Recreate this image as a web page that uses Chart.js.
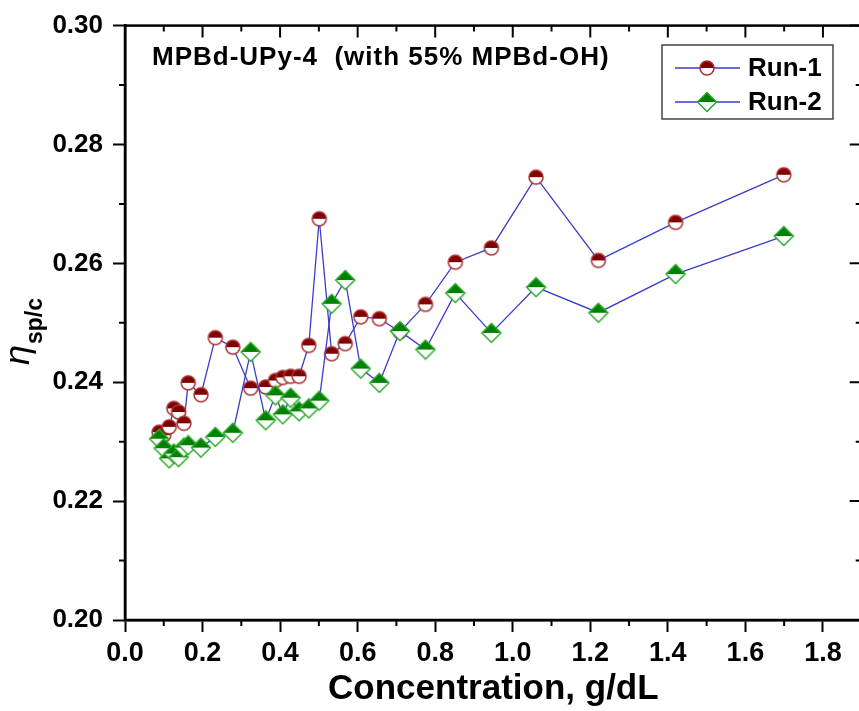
<!DOCTYPE html>
<html>
<head>
<meta charset="utf-8">
<script src="https://cdn.jsdelivr.net/npm/chart.js@4.4.1/dist/chart.umd.min.js"></script>
<style>
    html, body { margin: 0; padding: 0; background: #fff; overflow: hidden; }
    #wrap { width: 859px; height: 711px; overflow: hidden; }
</style>
</head>
<body>
<div id="wrap"><canvas id="viscChart" width="872" height="711"></canvas></div>
<script>
// concentration, g/dL
const concentration = [0.088, 0.100, 0.114, 0.126, 0.138, 0.152, 0.163, 0.196, 0.233, 0.278,
    0.324, 0.363, 0.388, 0.407, 0.427, 0.449, 0.474, 0.501, 0.533, 0.568,
    0.608, 0.656, 0.709, 0.775, 0.852, 0.945, 1.060, 1.221, 1.420, 1.699];
// eta sp/c
const run1 = [0.2316, 0.2311, 0.2325, 0.2356, 0.2350, 0.2331, 0.2399, 0.2379, 0.2475, 0.2459,
    0.2390, 0.2392, 0.2403, 0.2408, 0.2410, 0.2410, 0.2462, 0.2675, 0.2448, 0.2465,
    0.2510, 0.2507, 0.2485, 0.2531, 0.2602, 0.2626, 0.2745, 0.2605, 0.2669, 0.2749];
const run2 = [0.2305, 0.2289, 0.2272, 0.2280, 0.2274, 0.2290, 0.2294, 0.2290, 0.2308, 0.2315,
    0.2451, 0.2336, 0.2378, 0.2346, 0.2374, 0.2351, 0.2356, 0.2369, 0.2532, 0.2572,
    0.2423, 0.2399, 0.2486, 0.2455, 0.2550, 0.2483, 0.2560, 0.2517, 0.2582, 0.2646];
const seriesNames = ['Run-1', 'Run-2'];
const xRange = [0, 1.9];
const yRange = [0.20, 0.30];
const noteText = 'MPBd-UPy-4  (with 55% MPBd-OH)';

const FONT = '"Liberation Sans", Arial, sans-serif';
const LINE_BLUE = '#3b3bcc';

function makeCircle(fill, border) {
    const c = document.createElement('canvas');
    c.width = 18; c.height = 18;
    const g = c.getContext('2d');
    g.fillStyle = '#fff';
    g.beginPath(); g.arc(9, 9, 7, 0, Math.PI * 2); g.fill();
    g.fillStyle = fill;
    g.beginPath(); g.arc(9, 9, 7, Math.PI, Math.PI * 2); g.closePath(); g.fill();
    g.strokeStyle = border; g.lineWidth = 1.5;
    g.beginPath(); g.arc(9, 9, 7, 0, Math.PI * 2); g.stroke();
    return c;
}

function makeDiamond(fill, border) {
    const c = document.createElement('canvas');
    c.width = 22; c.height = 22;
    const g = c.getContext('2d');
    const r = 9.5;
    g.fillStyle = '#fff';
    g.beginPath();
    g.moveTo(11 - r, 11); g.lineTo(11, 11 - r); g.lineTo(11 + r, 11); g.lineTo(11, 11 + r);
    g.closePath(); g.fill();
    g.fillStyle = fill;
    g.beginPath();
    g.moveTo(11 - r, 11); g.lineTo(11, 11 - r); g.lineTo(11 + r, 11);
    g.closePath(); g.fill();
    g.strokeStyle = border; g.lineWidth = 1.5;
    g.beginPath();
    g.moveTo(11 - r, 11); g.lineTo(11, 11 - r); g.lineTo(11 + r, 11); g.lineTo(11, 11 + r);
    g.closePath(); g.stroke();
    return c;
}

const circleMark = makeCircle('#7f0000', '#a83232');
const diamondMark = makeDiamond('#008000', '#2aa82a');

// frame, minor ticks, legend box, note and y title
const decorations = {
    id: 'decorations',
    afterDraw(chart) {
        const ctx = chart.ctx;
        const {left, right, top, bottom} = chart.chartArea;
        const xs = chart.scales.x, ys = chart.scales.y;
        ctx.save();
        ctx.strokeStyle = '#000';
        ctx.lineWidth = 2.5;
        ctx.strokeRect(left, top, right - left, bottom - top);

        ctx.lineWidth = 2;
        ctx.beginPath();
        xs.ticks.forEach(t => {
            const px = xs.getPixelForValue(t.value);
            ctx.moveTo(px, top); ctx.lineTo(px, top + 12);
            const mx = xs.getPixelForValue(t.value + 0.1);
            if (t.value + 0.1 < xRange[1]) {
                ctx.moveTo(mx, bottom); ctx.lineTo(mx, bottom + 6);
                ctx.moveTo(mx, top); ctx.lineTo(mx, top + 6);
            }
        });
        ys.ticks.forEach(t => {
            const py = ys.getPixelForValue(t.value);
            ctx.moveTo(right, py); ctx.lineTo(right - 12, py);
            if (t.value + 0.01 < yRange[1]) {
                const my = ys.getPixelForValue(t.value + 0.01);
                ctx.moveTo(left, my); ctx.lineTo(left - 6, my);
                ctx.moveTo(right, my); ctx.lineTo(right - 6, my);
            }
        });
        ctx.stroke();

        // note
        ctx.fillStyle = '#000';
        ctx.font = 'bold 26px ' + FONT;
        ctx.textBaseline = 'middle';
        ctx.textAlign = 'left';
        ctx.letterSpacing = '1px';
        ctx.fillText(noteText, 152, 58);
        ctx.letterSpacing = '0px';

        // legend
        ctx.lineWidth = 1.5;
        ctx.strokeStyle = '#444';
        ctx.strokeRect(662, 45, 171, 74);
        const marks = [circleMark, diamondMark];
        chart.data.datasets.forEach((ds, i) => {
            const y = 68 + i * 34;
            ctx.strokeStyle = LINE_BLUE;
            ctx.lineWidth = 1.3;
            ctx.beginPath(); ctx.moveTo(675, y); ctx.lineTo(740, y); ctx.stroke();
            const m = marks[i];
            ctx.drawImage(m, 707 - m.width / 2, y - m.height / 2);
            ctx.fillStyle = '#000';
            ctx.font = 'bold 26px ' + FONT;
            ctx.fillText(ds.label, 748, y + 1);
        });

        // y title: eta sp/c
        ctx.translate(29, 365);
        ctx.rotate(-Math.PI / 2);
        ctx.textAlign = 'left';
        ctx.textBaseline = 'alphabetic';
        ctx.font = 'italic 36px ' + FONT;
        ctx.fillText('η', 0, 0);
        const w = ctx.measureText('η').width;
        ctx.font = 'bold 23px ' + FONT;
        ctx.fillText('sp/c', w + 1, 13);
        ctx.restore();
    }
};

new Chart(document.getElementById('viscChart'), {
    type: 'scatter',
    data: {
        datasets: [{
            label: seriesNames[0],
            data: concentration.map((c, i) => ({x: c, y: run1[i]})),
            showLine: true,
            borderColor: LINE_BLUE,
            borderWidth: 1.3,
            pointStyle: circleMark,
            pointRadius: 7,
            order: 2
        }, {
            label: seriesNames[1],
            data: concentration.map((c, i) => ({x: c, y: run2[i]})),
            showLine: true,
            borderColor: LINE_BLUE,
            borderWidth: 1.3,
            pointStyle: diamondMark,
            pointRadius: 9,
            order: 1
        }]
    },
    options: {
        responsive: false,
        animation: false,
        layout: {padding: {left: 0, top: 25, right: 6, bottom: 0}},
        plugins: {legend: {display: false}, tooltip: {enabled: false}},
        scales: {
            x: {
                type: 'linear',
                min: xRange[0],
                max: xRange[1],
                afterFit(s) { s.height = 91; },
                grid: {drawOnChartArea: false, tickLength: 12, tickWidth: 2, tickColor: '#000'},
                border: {color: '#000', width: 2.5},
                ticks: {
                    stepSize: 0.2,
                    includeBounds: false,
                    padding: 5,
                    color: '#000',
                    font: {family: FONT, size: 27, weight: 'bold'},
                    callback: v => v.toFixed(1)
                },
                title: {
                    display: true,
                    text: 'Concentration, g/dL',
                    color: '#000',
                    font: {family: FONT, size: 35, weight: 'bold'},
                    padding: {top: 0, bottom: 1}
                }
            },
            y: {
                min: yRange[0],
                max: yRange[1],
                afterFit(s) { s.width = 125; },
                grid: {drawOnChartArea: false, tickLength: 12, tickWidth: 2, tickColor: '#000'},
                border: {color: '#000', width: 2.5},
                ticks: {
                    stepSize: 0.02,
                    padding: 10,
                    color: '#000',
                    font: {family: FONT, size: 26, weight: 'bold'},
                    callback: v => v.toFixed(2)
                }
            }
        }
    },
    plugins: [decorations]
});
</script>
</body>
</html>
